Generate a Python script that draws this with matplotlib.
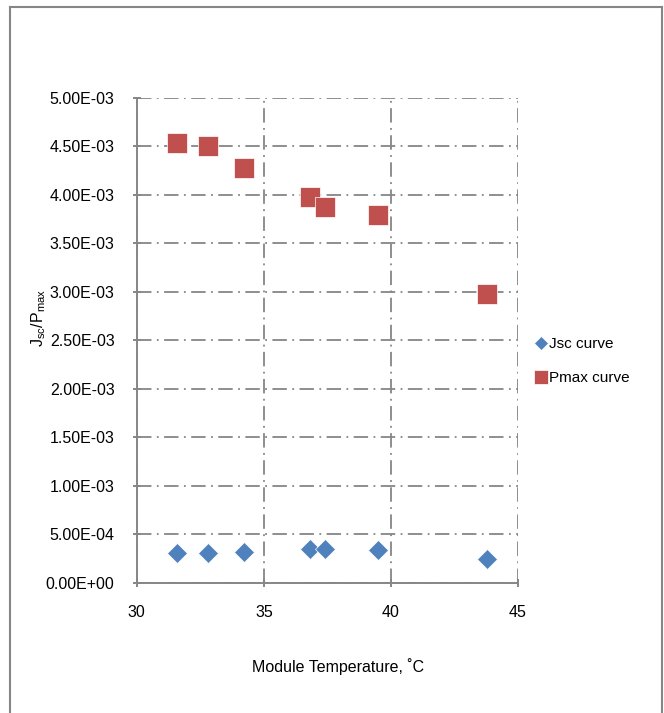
import matplotlib
matplotlib.use("Agg")
import matplotlib.pyplot as plt
from matplotlib.ticker import FuncFormatter
from matplotlib.lines import Line2D

plt.rcParams['font.family'] = ['Liberation Sans', 'DejaVu Sans']
plt.rcParams['mathtext.fontset'] = 'custom'
plt.rcParams['mathtext.rm'] = 'Liberation Sans'
plt.rcParams['mathtext.it'] = 'Liberation Sans:italic'

# data
temp = [31.6, 32.8, 34.2, 36.8, 37.4, 39.5, 43.8]
jsc = [3.0e-4, 3.05e-4, 3.15e-4, 3.45e-4, 3.45e-4, 3.4e-4, 2.4e-4]
pmax = [4.53e-3, 4.50e-3, 4.27e-3, 3.98e-3, 3.87e-3, 3.79e-3, 2.98e-3]
xticks = [30, 35, 40, 45]
yticks = [i * 5e-4 for i in range(11)]

grey = '#868686'
blue = '#4F81BD'
red = '#C0504D'
fs = 11.5

fig = plt.figure(figsize=(6.64, 7.13), dpi=100)
ax = fig.add_axes([0.206, 0.183, 0.574, 0.680])

ax.plot(temp, jsc, linestyle='none', marker='D', ms=10.5, color=blue,
        markeredgecolor='white', markeredgewidth=0.5, label='Jsc curve', zorder=3)
ax.plot(temp, pmax, linestyle='none', marker='s', ms=14.5, color=red,
        markeredgecolor='white', markeredgewidth=0.5, label='Pmax curve', zorder=3)

ax.set_xlim(30, 45)
ax.set_ylim(0, 5e-3)
ax.set_xticks(xticks)
ax.set_yticks(yticks)
ax.yaxis.set_major_formatter(FuncFormatter(lambda v, p: f"{v:.2E}"))

for s in ['top', 'right']:
    ax.spines[s].set_visible(False)
for s in ['left', 'bottom']:
    ax.spines[s].set_color(grey)
    ax.spines[s].set_linewidth(1.4)

ax.tick_params(direction='inout', length=6, width=1.4, color=grey,
               labelsize=fs, pad=13)
ax.grid(True, color=grey, linewidth=1.3, linestyle=(0, (8, 3, 1, 3)))
ax.set_axisbelow(True)

ax.set_ylabel(r'J$_{\rm sc}$/P$_{\rm max}$', fontsize=fs)
ax.yaxis.set_label_coords(-0.233, 0.545)
fig.text(338 / 664, 1 - 667 / 713, 'Module Temperature, ˚C', fontsize=fs,
         ha='center', va='center')

leg = ax.legend(loc='center left', bbox_to_anchor=(523 / 664, 1 - 361 / 713),
                bbox_transform=fig.transFigure, frameon=False, fontsize=11,
                markerscale=0.65, handlelength=0.6, handletextpad=0.2,
                labelspacing=1.3)

# outer chart frame
for xs, ys in [([10, 10], [713, 7]), ([10, 662], [7, 7]), ([662, 662], [7, 713])]:
    fig.add_artist(Line2D([x / 664 for x in xs], [1 - y / 713 for y in ys],
                          color=grey, linewidth=1.5, transform=fig.transFigure))

fig.savefig('out.png', dpi=100)
